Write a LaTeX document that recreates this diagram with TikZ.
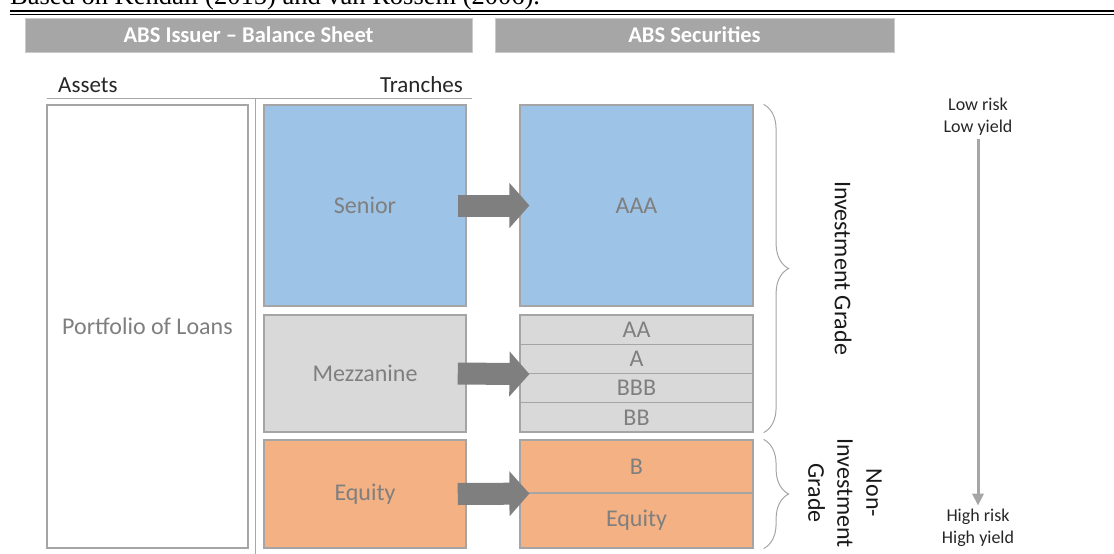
\documentclass[tikz,border=0pt]{standalone}
\usepackage{fontspec}
\setmainfont{Carlito}
\newfontfamily\citefont{Liberation Serif}
\usetikzlibrary{arrows.meta, decorations.pathreplacing}

\definecolor{hdrgray}{HTML}{A6A6A6}
\definecolor{seniorblue}{HTML}{9DC3E6}
\definecolor{mezzgray}{HTML}{D9D9D9}
\definecolor{equityorange}{HTML}{F4B183}
\definecolor{labelgray}{HTML}{7F7F7F}
\definecolor{framegray}{HTML}{A5A5A5}
\definecolor{darkarrow}{HTML}{7F7F7F}

\begin{document}
\begin{tikzpicture}[
    x=1pt, y=-1pt,
    % Styles for the boxes
    header/.style={fill=hdrgray, draw=hdrgray!60, line width=1pt, minimum height=34pt, text=white, font=\fontsize{22.5}{26}\selectfont\bfseries},
    colhead/.style={inner sep=0pt, text=black!85, font=\fontsize{23}{27}\selectfont},
    tranche/.style={draw=framegray, line width=1.5pt, minimum width=202pt, text=labelgray, font=\fontsize{24}{28}\selectfont},
    security/.style={draw=framegray, line width=1.2pt, minimum width=233pt, text=labelgray, font=\fontsize{24}{28}\selectfont},
    grade/.style={rotate=-90, align=center, text=black!90, font=\fontsize{24}{29}\selectfont},
    risk/.style={align=center, text=black!85, font=\fontsize{18}{22}\selectfont},
    % Styles for the connectors
    blockarrow/.style={draw=darkarrow, line width=22pt, -{Triangle[length=20pt, width=44pt]}},
    riskarrow/.style={draw=hdrgray, line width=3pt, -{Triangle[length=12pt, width=11pt]}},
    brace/.style={draw=framegray, line width=1pt, decorate, decoration={brace, amplitude=25pt}}
    ]

    \useasboundingbox (0,0) rectangle (1114,554);

    % Source line (cut at the top) and double rule
    \begin{scope}
        \clip (0,0) rectangle (1114,554);
        \node[anchor=base west, inner sep=0pt, font=\citefont\fontsize{26.5}{30}\selectfont] (cite) at (10,5) {Based on Kendall (2015) and van Rossem (2006).};
    \end{scope}
    \draw[line width=2pt] (10,10.8) -- (1114,10.8);
    \draw[line width=1pt] (10,14.2) -- (1114,14.2);

    % Headers
    \node[header, minimum width=447pt] (issuer) at (248.5,35) {ABS Issuer -- Balance Sheet};
    \node[header, minimum width=399pt] (absec) at (694.5,35) {ABS Securities};

    % Balance sheet columns
    \node[colhead, anchor=base west] (assets) at (58,92) {Assets};
    \node[colhead, anchor=base east] (tranches) at (463,92) {Tranches};
    \draw[draw=hdrgray, line width=1pt] (47,98) -- (472,98);
    \draw[draw=hdrgray, line width=1pt] (255.5,98) -- (255.5,554);

    % Assets
    \node[tranche, fill=white, minimum width=201pt, minimum height=443pt] (loans) at (147.5,326.5) {Portfolio of Loans};

    % Tranches
    \node[tranche, fill=seniorblue, minimum height=201pt] (senior) at (365,205.5) {Senior};
    \node[tranche, fill=mezzgray, minimum height=117pt] (mezz) at (365,373.5) {Mezzanine};
    \node[tranche, fill=equityorange, minimum height=108pt] (equity) at (365,494) {Equity};

    % Securities
    \node[security, fill=seniorblue, minimum height=201pt] (aaa) at (636.5,205.5) {AAA};
    \node[security, fill=mezzgray, minimum height=29.25pt] (aa) at (636.5,329.6) {AA};
    \node[security, fill=mezzgray, minimum height=29.25pt] (a) at (636.5,358.9) {A};
    \node[security, fill=mezzgray, minimum height=29.25pt] (bbb) at (636.5,388.1) {BBB};
    \node[security, fill=mezzgray, minimum height=29.25pt] (bb) at (636.5,417.4) {BB};
    \node[security, fill=equityorange, minimum height=53pt] (bsec) at (636.5,466.5) {B};
    \node[security, fill=equityorange, minimum height=55pt] (eqsec) at (636.5,520.5) {Equity};

    % Block arrows
    \draw[blockarrow] ([xshift=-9pt]senior.east) -- ([xshift=10pt]aaa.west);
    \draw[blockarrow] ([xshift=-9pt]mezz.east) -- ([xshift=10pt]a.south west);
    \draw[blockarrow] ([xshift=-9pt]equity.east) -- ([xshift=10pt]bsec.south west);

    % Braces and grades
    \draw[brace] ([xshift=10pt]aaa.north east) -- ([xshift=10pt]bb.south east);
    \draw[brace] ([xshift=10pt]bsec.north east) -- ([xshift=10pt]eqsec.south east);
    \node[grade] (ig) at (843,268) {Investment Grade};
    \node[grade] (nig) at (845,493) {Non-\\Investment\\Grade};

    % Risk / yield
    \node[risk] (lowrisk) at (978,117) {Low risk\\Low yield};
    \node[risk] (highrisk) at (978,528) {High risk\\High yield};
    \draw[riskarrow] (lowrisk.south) -- (highrisk.north);

\end{tikzpicture}
\end{document}
